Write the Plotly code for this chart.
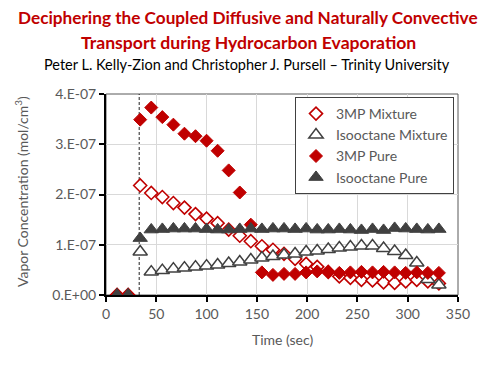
import plotly.graph_objects as go

# time (sec)
time_s = [11, 22, 34, 45, 56, 67, 78, 89, 100, 111, 122, 133, 144, 155, 166,
          177, 188, 199, 210, 221, 232, 243, 254, 265, 276, 287, 298, 309, 320, 331]

# vapor concentration, units of 1e-7 mol/cm3
mp3_mixture = [0, 0, 2.18, 2.03, 1.95, 1.83, 1.74, 1.61, 1.52, 1.43, 1.30, 1.18, 1.07, 0.97, 0.90,
               0.82, 0.72, 0.62, 0.56, 0.46, 0.37, 0.34, 0.30, 0.29, 0.25, 0.24, 0.27, 0.30, 0.27, 0.23]
iso_mixture = [0, 0, 0.86, 0.46, 0.49, 0.52, 0.54, 0.56, 0.58, 0.60, 0.63, 0.66, 0.70, 0.74, 0.77,
               0.80, 0.82, 0.86, 0.88, 0.91, 0.94, 0.96, 0.98, 0.98, 0.93, 0.87, 0.79, 0.64, 0.31, 0.20]
mp3_pure = [0, 0, 3.49, 3.73, 3.54, 3.39, 3.21, 3.16, 3.07, 2.87, 2.48, 2.04, 1.40, 0.45, 0.40,
            0.42, 0.42, 0.45, 0.47, 0.46, 0.44, 0.45, 0.46, 0.45, 0.46, 0.45, 0.44, 0.45, 0.44, 0.44]
iso_pure = [0, 0, 1.13, 1.30, 1.31, 1.32, 1.32, 1.32, 1.31, 1.30, 1.30, 1.31, 1.32, 1.31, 1.32,
            1.32, 1.31, 1.32, 1.30, 1.30, 1.31, 1.30, 1.29, 1.31, 1.29, 1.33, 1.32, 1.31, 1.30, 1.31]

y_ticks = [0, 1e-7, 2e-7, 3e-7, 4e-7]
y_tick_text = ['0.E+00', '1.E-07', '2.E-07', '3.E-07', '4.E-07']
onset_time = 33  # dashed marker line

RED = '#C00000'
GRAY = '#404040'
TXT = '#595959'
FONT = 'Lato'

# the page body adds an 8px margin, so the figure is 8px smaller and shifted
OFF = 8
W, H = 496 - OFF, 365 - OFF
ML, MR, MT, MB = 106 - OFF, 38, 94 - OFF, 70
PW, PH = W - ML - MR, H - MT - MB


def scale(v):
    return [c * 1e-7 for c in v]


def px_to_paper(px, py):
    # px, py measured in the 496x365 window
    return (px - OFF - ML) / PW, (H - MB - (py - OFF)) / PH


fig = go.Figure()
fig.add_trace(go.Scatter(x=time_s, y=scale(mp3_mixture), mode='markers', name='3MP Mixture',
                         legendgroup='a',
                         marker=dict(symbol='diamond', size=10, color='white',
                                     line=dict(color=RED, width=1.6))))
fig.add_trace(go.Scatter(x=time_s, y=scale(iso_mixture), mode='markers', name='Isooctane Mixture',
                         legendgroup='b',
                         marker=dict(symbol='triangle-up', size=12.5, color='white',
                                     line=dict(color=GRAY, width=1.5))))
fig.add_trace(go.Scatter(x=time_s, y=scale(mp3_pure), mode='markers', name='3MP Pure',
                         legendgroup='c',
                         marker=dict(symbol='diamond', size=10, color=RED,
                                     line=dict(color=RED, width=1))))
fig.add_trace(go.Scatter(x=time_s, y=scale(iso_pure), mode='markers', name='Isooctane Pure',
                         legendgroup='d',
                         marker=dict(symbol='triangle-up', size=12.5, color=GRAY,
                                     line=dict(color=GRAY, width=1))))

# dashed line at the onset
fig.add_shape(type='line', x0=onset_time, x1=onset_time, y0=0, y1=4e-7, xref='x', yref='y',
              line=dict(color='#222222', width=1, dash='3px,2px'), layer='below')
# plot area border
fig.add_shape(type='rect', x0=0, x1=1, y0=0, y1=1, xref='paper', yref='paper',
              line=dict(color='#595959', width=1), layer='below')

texts = [
    ('<b>Deciphering the Coupled Diffusive and Naturally Convective</b>', 248, 18, 17.2, RED, 0),
    ('<b>Transport during Hydrocarbon Evaporation</b>', 248, 42, 17.6, RED, 0),
    ('Peter L. Kelly-Zion and Christopher J. Pursell \u2013 Trinity University', 247, 64, 14.5, 'black', 0),
    ('Time (sec)', 282, 339, 14, TXT, 0),
    ('Vapor Concentration (mol/cm<sup>3</sup>)', 21, 192, 14, TXT, -90),
]
annotations = []
for text, px, py, size, color, angle in texts:
    ax, ay = px_to_paper(px, py)
    annotations.append(dict(text=text, x=ax, y=ay, xref='paper', yref='paper',
                            xanchor='center', yanchor='middle', showarrow=False,
                            textangle=angle, font=dict(size=size, color=color, family=FONT)))

lx, ly = px_to_paper(295, 97)
fig.update_layout(
    width=W, height=H,
    margin=dict(l=ML, r=MR, t=MT, b=MB, autoexpand=False),
    paper_bgcolor='white', plot_bgcolor='white',
    font=dict(family=FONT, size=14, color=TXT),
    showlegend=True,
    legend=dict(x=lx, y=ly, xanchor='left', yanchor='top',
                bgcolor='white', bordercolor='#404040', borderwidth=1,
                font=dict(size=14, color=TXT), tracegroupgap=0,
                traceorder='grouped'),
    annotations=annotations,
)

fig.update_xaxes(range=[0, 350], dtick=50, showgrid=True, gridcolor='#D9D9D9',
                 showline=True, linecolor='black', linewidth=2,
                 ticks='outside', ticklen=5, tickcolor='black', tickwidth=1.5,
                 zeroline=False, automargin=False)
fig.update_yaxes(range=[0, 4e-7], tickvals=y_ticks, ticktext=y_tick_text,
                 showgrid=True, gridcolor='#D9D9D9',
                 showline=True, linecolor='black', linewidth=2,
                 ticks='outside', ticklen=5, tickcolor='black', tickwidth=1.5,
                 zeroline=False, automargin=False)

fig.write_html('out.html')
